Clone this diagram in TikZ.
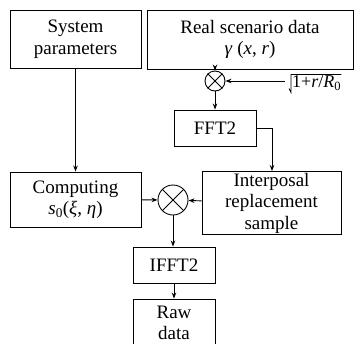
\documentclass[tikz,border=0pt]{standalone}
\usepackage{fontspec}
\setmainfont{Liberation Serif}
\usetikzlibrary{arrows.meta}
\begin{document}
\begin{tikzpicture}[x=1pt,y=-1pt,
  box/.style={draw,line width=0.9pt,inner sep=0pt,align=center,font=\fontsize{19}{21.5}\selectfont},
  mult/.style={draw,circle,line width=0.9pt,inner sep=0pt},
  arr/.style={line width=0.9pt,-{Stealth[length=6pt,width=4.5pt]}},
  ln/.style={line width=0.9pt}]
\useasboundingbox (0,0) rectangle (355,343);
\node[box,minimum width=131pt,minimum height=58pt] (sys) at (75.5,39) {System\\parameters};
\node[box,minimum width=206pt,minimum height=59pt] (real) at (250,39.5) {Real scenario data\\\textit{γ} (\textit{x}, \textit{r})};
\node[mult,minimum size=20pt] (c1) at (215,81) {};
\draw[ln] (c1.north west) -- (c1.south east) (c1.north east) -- (c1.south west);
\node[font=\fontsize{18}{20}\selectfont,inner sep=1pt,anchor=west] (sq) at (291,83) {1+\textit{r}/\textit{R}\textsubscript{0}};
\draw[line width=0.7pt] ([xshift=-1pt]sq.north east) -- (sq.north west) -- ([yshift=-1pt]sq.south west) -- ++(-2,-4);
\coordinate (sqin) at ([xshift=-6pt]sq.west);
\node[box,minimum width=82pt,minimum height=36pt] (fft) at (215,128) {FFT2};
\node[box,minimum width=139pt,minimum height=63pt] (intp) at (271.5,203) {Interposal\\replacement\\sample};
\node[box,minimum width=131pt,minimum height=55pt] (comp) at (75.5,199.5) {Computing\\\textit{s}\textsubscript{0}(\textit{ξ}, \textit{η})};
\node[mult,minimum size=30pt] (c2) at (173,200) {};
\draw[ln] (c2.north west) -- (c2.south east) (c2.north east) -- (c2.south west);
\node[box,minimum width=82pt,minimum height=36pt] (ifft) at (174,265) {IFFT2};
\node[box,minimum width=82pt,minimum height=48pt] (raw) at (174,323) {Raw\\data};
\draw[arr] (real.south -| c1) -- (c1);
\draw[arr] (c1.east -| sqin) -- (c1.east);
\draw[arr] (c1) -- (fft);
\draw[arr] (fft.east) -| (intp.north -| 272,0);
\draw[arr] (sys) -- (comp);
\draw[arr] (comp) -- (c2);
\draw[arr] (intp) -- (c2);
\draw[arr] (c2) -- (c2 |- ifft.north);
\draw[arr] (ifft) -- (raw);
\end{tikzpicture}
\end{document}
